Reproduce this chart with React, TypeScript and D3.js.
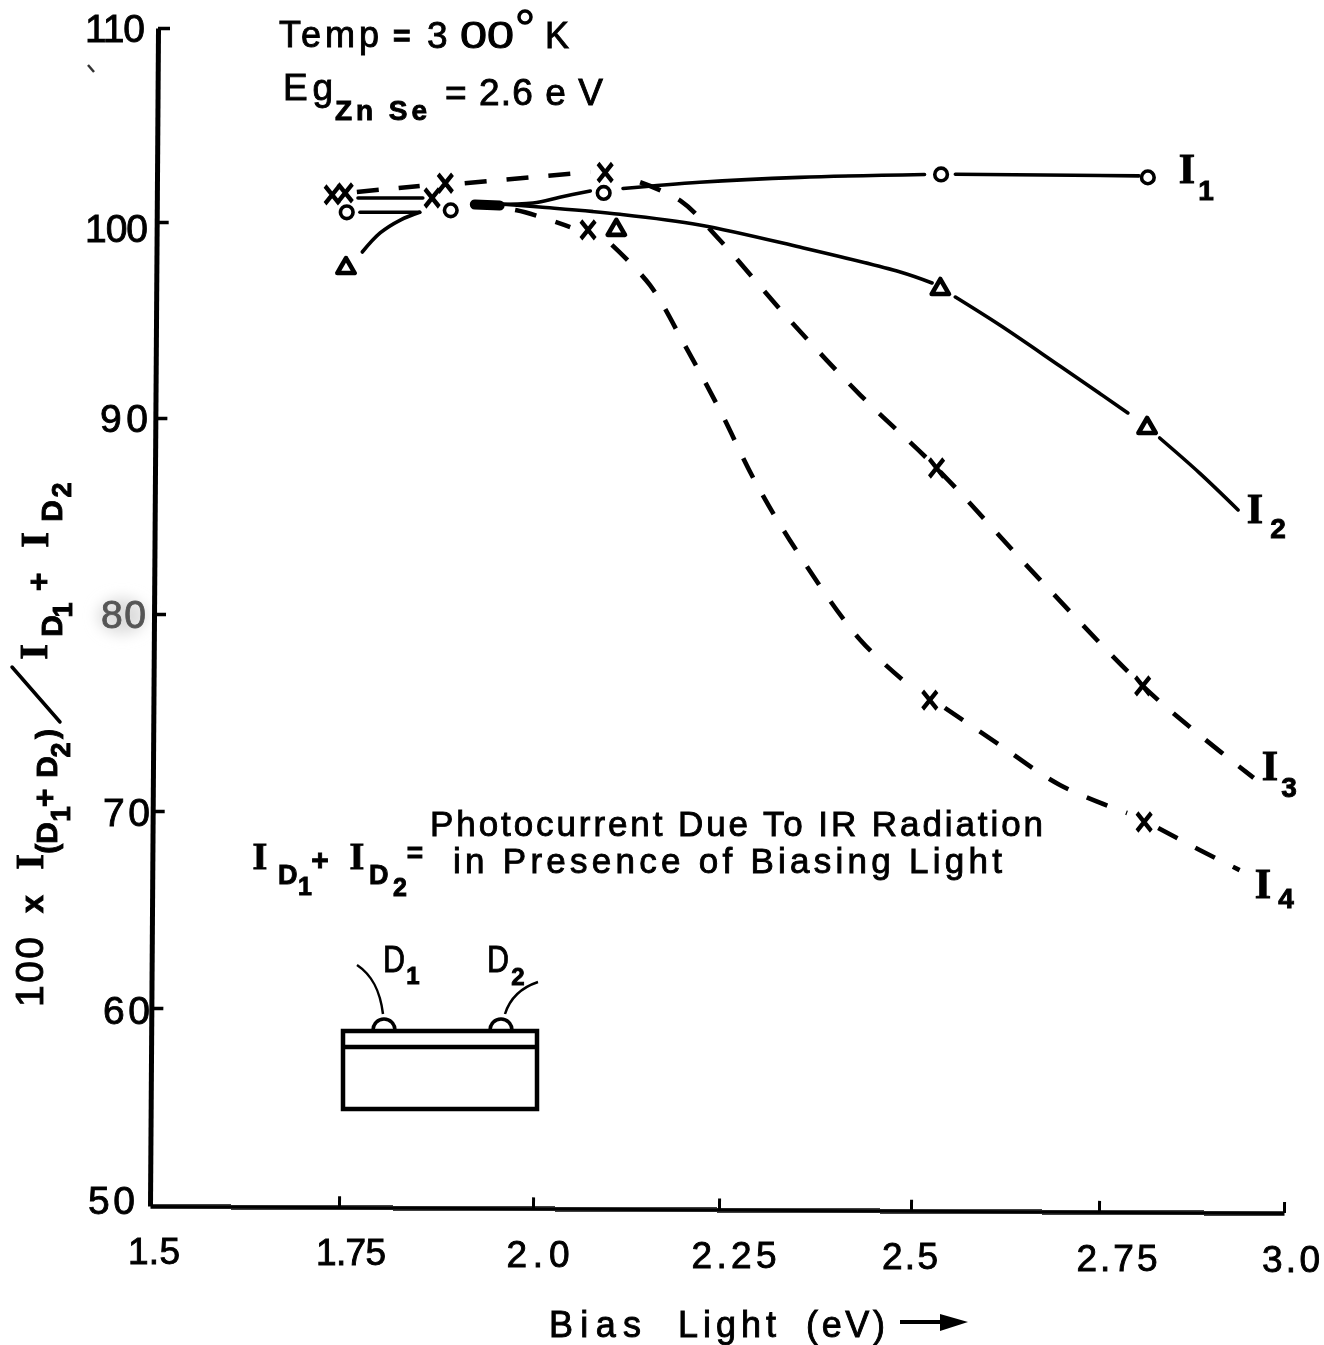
import React, { useEffect, useRef } from 'react'
import * as d3 from 'd3'

// axis values, with the pixel stops (the hand drawn ticks are not even)
const xTicks = [1.5, 1.75, 2.0, 2.25, 2.5, 2.75, 3.0]
const xStops = [150, 339, 533, 719, 911, 1099, 1284]
const xTickLabels = ['1.5', '1.75', '2.0', '2.25', '2.5', '2.75', '3.0']
const yTicks = [50, 60, 70, 80, 90, 100, 110]
const yStops = [1206, 1008, 811, 614, 418, 222, 28]

type Pt = [number, number]

// curve pieces, broken where the drafter left a gap round a marker
const i1Pieces: Pt[][] = [
  [[1.777, 100.5], [1.854, 100.5]],
  [[1.923, 100.92], [2.0, 100.98], [2.036, 101.28], [2.077, 101.6]],
  [[2.121, 101.73], [2.224, 102.05], [2.355, 102.3], [2.518, 102.45]],
  [[2.559, 102.46], [2.804, 102.38]],
]
const i2Pieces: Pt[][] = [
  [[1.78, 98.47], [1.803, 99.44], [1.829, 100.1], [1.854, 100.5]],
  [[1.923, 101.03], [2.009, 100.77], [2.117, 100.4], [2.224, 99.85], [2.355, 98.72], [2.486, 97.45], [2.528, 96.89]],
  [[2.559, 96.17], [2.618, 94.74], [2.698, 92.65], [2.789, 90.26]],
  [[2.832, 88.98], [2.886, 87.19], [2.938, 85.31]],
]
const i3Pieces: Pt[][] = [
  [[1.773, 101.55], [1.854, 101.86]],
  [[1.912, 102.0], [2.077, 102.58]],
  [[2.144, 102.05], [2.198, 101.1], [2.251, 99.08], [2.342, 95.0], [2.434, 91.17], [2.534, 87.45], [2.672, 81.73], [2.809, 76.35], [2.886, 73.86], [2.959, 71.68]],
]
const i4Pieces: Pt[][] = [
  [[1.923, 100.82], [1.979, 100.6], [2.05, 99.74]],
  [[2.106, 98.83], [2.157, 96.79], [2.204, 93.72], [2.251, 90.41], [2.296, 86.84], [2.342, 83.78], [2.434, 78.68], [2.505, 76.14]],
  [[2.545, 75.23], [2.618, 73.35], [2.698, 71.32], [2.788, 69.9]],
  [[2.83, 69.14], [2.886, 68.02], [2.94, 67.0]],
]
// the short solid line running between the x marks on the left
const i4Lead: Pt[] = [[1.7745, 101.24], [1.858, 101.24]]
// where the curves leave together and the ink runs into one thick stroke
const inkBlob: Pt[] = [[1.925, 100.9], [1.957, 100.85]]

const circlePoints: Pt[] = [[1.76, 100.5], [1.894, 100.6], [2.095, 101.5], [2.54, 102.45], [2.816, 102.3]]
const trianglePoints: Pt[] = [[1.759, 97.65], [2.112, 99.6], [2.539, 96.58], [2.815, 89.49]]
const crossPoints: Pt[] = [
  [1.741, 101.4], [1.758, 101.5], [1.887, 102.0], [2.097, 102.55], [2.534, 87.45], [2.809, 76.35],
  [1.87, 101.24], [2.074, 99.6], [2.525, 75.63], [2.811, 69.44],
]

const sans = '"Liberation Sans", sans-serif'
const serif = '"Liberation Serif", serif'

const x = d3.scaleLinear().domain(xTicks).range(xStops)
const y = d3.scaleLinear().domain(yTicks).range(yStops)
const line = d3.line<Pt>().x((d) => x(d[0])).y((d) => y(d[1])).curve(d3.curveCatmullRom.alpha(0.5))

const circleD = d3.symbol(d3.symbolCircle, 125)()
const triangleD = d3.symbol(d3.symbolTriangle, 130)()
const crossD = d3.symbol(d3.symbolTimes, 210)()

const xLabelNudge = [4, 12, 5, 15, -1, 18, 7]
const xLabelWidth = [52, 70, 63, 85, 56, 81, 58]
const yLabelRight = [135, 150, 150, 146, 148, 148, 145]
const yLabelWidth = [47, 47, 47, 45, 48, 63, 60]
const yLabelDy = [-6, 2, 1, 0, 0, 6, 0]

// big serif I with a subscript, used for the curve names
const BigI = ({ px, py, sub, sx, sy }: { px: number; py: number; sub: string; sx: number; sy: number }) => (
  <g>
    <text x={px} y={py} fontFamily={serif} fontWeight="bold" fontSize={42} textAnchor="middle">I</text>
    <text x={sx} y={sy} fontFamily={sans} fontWeight="bold" fontSize={28} textAnchor="middle">{sub}</text>
  </g>
)

const Up = ({ cx, cy, size, text, weight, family, width }: any) => (
  <text
    transform={`translate(${cx},${cy}) rotate(-90)`}
    fontFamily={family || sans}
    fontWeight={weight || 'normal'}
    fontSize={size}
    textAnchor="middle"
    textLength={width}
    lengthAdjust={width ? 'spacing' : undefined}
  >
    {text}
  </text>
)

const App = () => {
  const xAxisRef = useRef<SVGGElement>(null)
  const yAxisRef = useRef<SVGGElement>(null)

  useEffect(() => {
    const xg = d3.select(xAxisRef.current)
    xg.call(d3.axisTop(x).tickValues(xTicks).tickSizeInner(11).tickSizeOuter(0).tickFormat(() => '') as any)
    xg.select('.domain').attr('stroke-width', 4.5).attr('stroke', '#000')
    xg.selectAll('.tick line').attr('stroke-width', 3).attr('stroke', '#000')
    xg.selectAll('.tick').filter((d: any) => d === 1.5).select('line').remove()

    const yg = d3.select(yAxisRef.current)
    yg.call(d3.axisRight(y).tickValues(yTicks).tickSizeInner(12).tickSizeOuter(0).tickFormat(() => '') as any)
    yg.select('.domain').attr('stroke-width', 5).attr('stroke', '#000')
    yg.selectAll('.tick line').attr('stroke-width', 3.5).attr('stroke', '#000')
    yg.selectAll('.tick').filter((d: any) => d === 50).select('line').remove()
  }, [])

  const solid = { fill: 'none', stroke: '#000', strokeWidth: 3.6, strokeLinecap: 'round' as const }
  const dashed = { ...solid, strokeWidth: 4.6, strokeDasharray: '22 20', strokeLinecap: 'butt' as const }

  return (
    <svg
      width={1324}
      height={1345}
      style={{ position: 'absolute', left: 0, top: 0, background: '#fff', display: 'block' }}
    >
      <defs>
        <style>{'text { stroke: #000; stroke-width: 0.9px; }'}</style>
        <filter id="scan" x="0" y="0" width="100%" height="100%" filterUnits="userSpaceOnUse">
          <feGaussianBlur stdDeviation="0.7" />
        </filter>
        <filter id="smudge" x="-50%" y="-50%" width="200%" height="200%">
          <feGaussianBlur stdDeviation="7" />
        </filter>
      </defs>
      <ellipse cx={122} cy={616} rx={24} ry={18} fill="#ddd" filter="url(#smudge)" />
      <g filter="url(#scan)" fill="#000">
        {/* axes, tilted a little as on the scanned sheet */}
        <g ref={yAxisRef} transform="rotate(0.39,150,1206) translate(150,0)" />
        <g ref={xAxisRef} transform="rotate(0.354,150,1206) translate(0,1206)" />
        <line x1={94} y1={72} x2={88} y2={65} stroke="#333" strokeWidth={2.5} />

        {xTickLabels.map((t, i) => (
          <text
            key={t}
            x={x(xTicks[i]) + xLabelNudge[i]}
            y={1264 + (i * 8) / 6}
            fontFamily={sans}
            fontSize={37}
            textAnchor="middle"
            textLength={xLabelWidth[i]}
            lengthAdjust="spacing"
          >
            {t}
          </text>
        ))}
        {yTicks.map((t, i) => (
          <text
            key={t}
            x={yLabelRight[i]}
            y={y(t) + yLabelDy[i] + 14}
            fontFamily={sans}
            fontSize={39}
            textAnchor="end"
            textLength={yLabelWidth[i]}
            lengthAdjust="spacing"
            fill={t === 80 ? '#555' : '#000'}
            style={t === 80 ? { stroke: '#555' } : undefined}
          >
            {t}
          </text>
        ))}

        {/* curves */}
        {i1Pieces.map((p, i) => <path key={i} d={line(p) || ''} {...solid} />)}
        {i2Pieces.map((p, i) => <path key={i} d={line(p) || ''} {...solid} />)}
        <path d={line(i4Lead) || ''} {...solid} />
        <path d={line(inkBlob) || ''} {...solid} strokeWidth={10} />
        {i3Pieces.map((p, i) => <path key={i} d={line(p) || ''} {...dashed} />)}
        {i4Pieces.map((p, i) => <path key={i} d={line(p) || ''} {...dashed} />)}

        {/* markers */}
        {circlePoints.map((d, i) => (
          <path key={i} d={circleD || ''} transform={`translate(${x(d[0])},${y(d[1])})`} fill="#fff" stroke="#000" strokeWidth={3.6} />
        ))}
        {trianglePoints.map((d, i) => (
          <path key={i} d={triangleD || ''} transform={`translate(${x(d[0])},${y(d[1])})`} fill="#fff" stroke="#000" strokeWidth={4.6} strokeLinejoin="round" />
        ))}
        {crossPoints.map((d, i) => (
          <path key={i} d={crossD || ''} transform={`translate(${x(d[0])},${y(d[1])}) scale(0.8,1)`} fill="none" stroke="#000" strokeWidth={5} />
        ))}

        {/* curve names */}
        <BigI px={1187} py={183} sub="1" sx={1206} sy={200} />
        <BigI px={1255} py={523} sub="2" sx={1278} sy={538} />
        <BigI px={1270} py={780} sub="3" sx={1289} sy={797} />
        <BigI px={1263} py={898} sub="4" sx={1286} sy={908} />

        {/* notes top left */}
        <text x={279} y={47} fontFamily={sans} fontSize={36} textLength={100} lengthAdjust="spacing">Temp</text>
        <text x={393} y={46} fontFamily={sans} fontSize={30} fontWeight="bold">=</text>
        <text x={427} y={48} fontFamily={sans} fontSize={37}>3</text>
        <text x={460} y={48} fontFamily={sans} fontSize={37} textLength={54} lengthAdjust="spacingAndGlyphs">00</text>
        <circle cx={525} cy={17} r={6} fill="none" stroke="#000" strokeWidth={3.5} />
        <text x={545} y={48} fontFamily={sans} fontSize={36}>K</text>
        <text x={283} y={100} fontFamily={sans} fontSize={37} textLength={50} lengthAdjust="spacing">Eg</text>
        <text x={335} y={120} fontFamily={sans} fontSize={28} fontWeight="bold" textLength={92} lengthAdjust="spacing">Zn Se</text>
        <text x={445} y={105} fontFamily={sans} fontSize={37} textLength={158} lengthAdjust="spacing">= 2.6 e V</text>

        {/* definition of the photocurrent */}
        <text x={430} y={836} fontFamily={sans} fontSize={35} textLength={613} lengthAdjust="spacing">Photocurrent Due To IR Radiation</text>
        <text x={453} y={873} fontFamily={sans} fontSize={35} textLength={549} lengthAdjust="spacing">in Presence of Biasing Light</text>
        <text x={260} y={869} fontFamily={serif} fontWeight="bold" fontSize={38} textAnchor="middle">I</text>
        <text x={278} y={884} fontFamily={sans} fontWeight="bold" fontSize={27}>D</text>
        <text x={305} y={895} fontFamily={sans} fontWeight="bold" fontSize={25} textAnchor="middle">1</text>
        <text x={320} y={870} fontFamily={sans} fontWeight="bold" fontSize={30} textAnchor="middle">+</text>
        <text x={357} y={869} fontFamily={serif} fontWeight="bold" fontSize={38} textAnchor="middle">I</text>
        <text x={369} y={884} fontFamily={sans} fontWeight="bold" fontSize={27}>D</text>
        <text x={400} y={896} fontFamily={sans} fontWeight="bold" fontSize={25} textAnchor="middle">2</text>
        <text x={415} y={862} fontFamily={sans} fontWeight="bold" fontSize={28} textAnchor="middle">=</text>

        {/* the sample sketch */}
        <g fill="none" stroke="#000">
          <path d="M373,1030 A11,11 0 0 1 395,1030" strokeWidth={3.5} />
          <path d="M490,1030 A11,11 0 0 1 512,1030" strokeWidth={3.5} />
          <path d="M357,965 C372,975 380,990 383,1014" strokeWidth={2.5} />
          <path d="M538,982 C520,988 510,998 505,1014" strokeWidth={2.5} />
          <rect x={343} y={1031} width={194} height={78} strokeWidth={4.5} />
          <line x1={343} y1={1047} x2={537} y2={1047} strokeWidth={4.5} />
        </g>
        <text x={383} y={972} fontFamily={sans} fontSize={37} textLength={22} lengthAdjust="spacingAndGlyphs">D</text>
        <text x={413} y={984} fontFamily={sans} fontWeight="bold" fontSize={24} textAnchor="middle">1</text>
        <text x={487} y={972} fontFamily={sans} fontSize={37} textLength={22} lengthAdjust="spacingAndGlyphs">D</text>
        <text x={518} y={985} fontFamily={sans} fontWeight="bold" fontSize={24} textAnchor="middle">2</text>

        {/* y axis title, built from pieces */}
        <Up cx={43} cy={972} size={39} text="100" width={70} />
        <Up cx={43} cy={904} size={32} text="x" weight="bold" />
        <Up cx={43} cy={862} size={40} text="I" weight="bold" family={serif} />
        <Up cx={57} cy={838} size={30} text="(D" weight="bold" />
        <Up cx={70} cy={814} size={28} text="1" weight="bold" />
        <Up cx={55} cy={798} size={32} text="+" weight="bold" />
        <Up cx={57} cy={767} size={30} text="D" weight="bold" />
        <Up cx={70} cy={750} size={27} text="2" weight="bold" />
        <Up cx={57} cy={734} size={30} text=")" weight="bold" />
        <line x1={12} y1={667} x2={60} y2={722} stroke="#000" strokeWidth={3.5} strokeLinecap="round" />
        <Up cx={47} cy={652} size={40} text="I" weight="bold" family={serif} />
        <Up cx={62} cy={626} size={30} text="D" weight="bold" />
        <Up cx={72} cy={610} size={27} text="1" weight="bold" />
        <Up cx={49} cy={582} size={32} text="+" weight="bold" />
        <Up cx={48} cy={540} size={40} text="I" weight="bold" family={serif} />
        <Up cx={62} cy={511} size={30} text="D" weight="bold" />
        <Up cx={71} cy={490} size={27} text="2" weight="bold" />

        {/* x axis title and its arrow */}
        <text x={549} y={1337} fontFamily={sans} fontSize={36} textLength={92} lengthAdjust="spacing">Bias</text>
        <text x={678} y={1337} fontFamily={sans} fontSize={36} textLength={98} lengthAdjust="spacing">Light</text>
        <text x={806} y={1337} fontFamily={sans} fontSize={36} textLength={79} lengthAdjust="spacing">(eV)</text>
        <line x1={900} y1={1322} x2={945} y2={1322} stroke="#000" strokeWidth={4} />
        <path d="M940,1314 L968,1322 L940,1331 Z" />
      </g>
    </svg>
  )
}

export default App
